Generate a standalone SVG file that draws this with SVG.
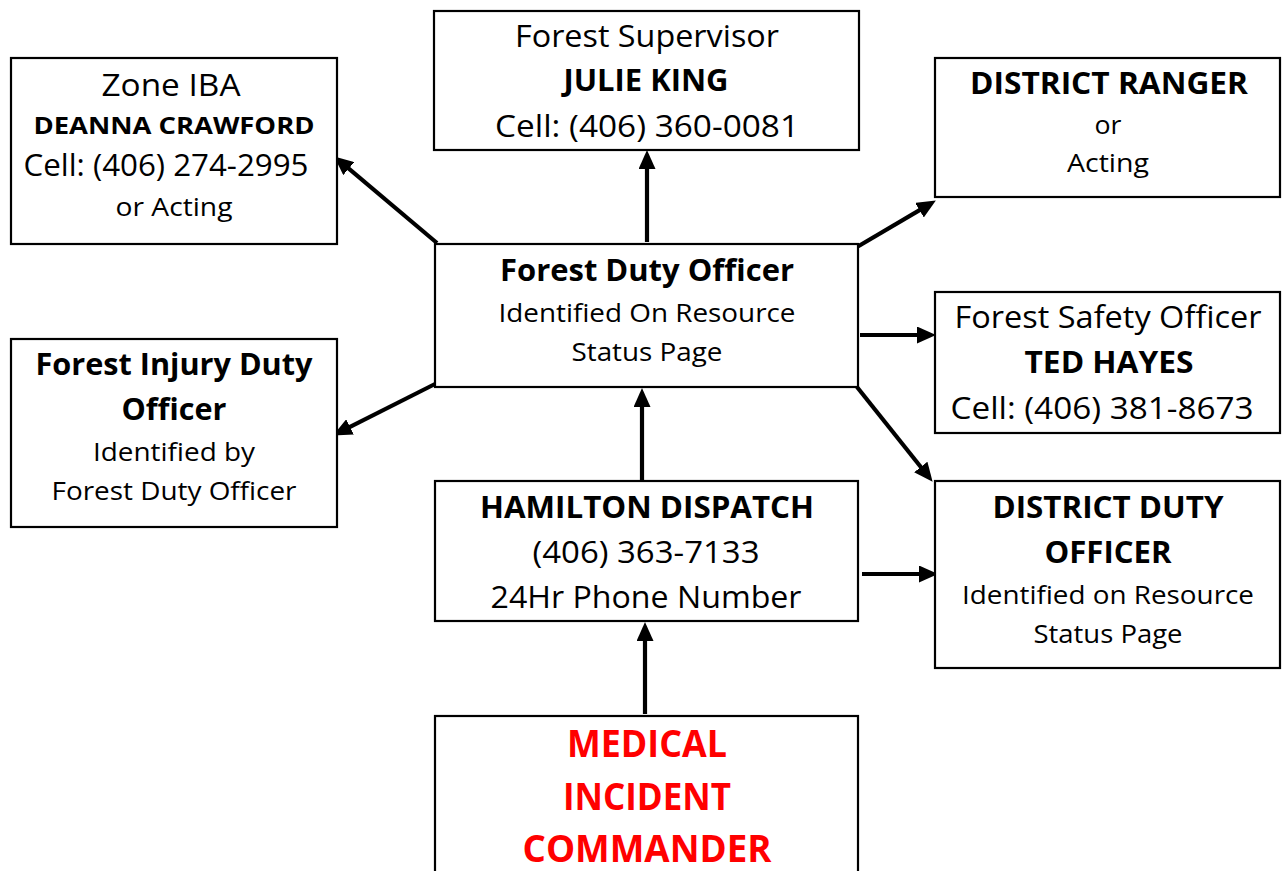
<svg xmlns="http://www.w3.org/2000/svg" width="1282" height="871" viewBox="0 0 1282 871">
<style>
.box{fill:#fff;stroke:#000;stroke-width:2.2}
text{font-family:"Open Sans","Noto Sans","Liberation Sans",sans-serif;fill:#000;text-anchor:middle}
.L{font-size:31px}
.S{font-size:26px}
.b{font-weight:bold}
.red{fill:#ff0000;font-size:37px;font-weight:bold}
.arr{stroke:#000;stroke-width:4.2;fill:none;marker-end:url(#ah)}
</style>
<defs>
<marker id="ah" markerUnits="userSpaceOnUse" markerWidth="19" markerHeight="17" refX="10" refY="8.5" orient="auto">
<path d="M0,0 L19,8.5 L0,17 z" fill="#000"/>
</marker>
</defs>
<rect width="1282" height="871" fill="#fff"/>

<g id="connectors">
<line class="arr" x1="437" y1="243" x2="341.1" y2="162.2"/>
<line class="arr" x1="647" y1="242" x2="647" y2="159"/>
<line class="arr" x1="857" y1="247" x2="928.1" y2="205.1"/>
<line class="arr" x1="860" y1="335" x2="927" y2="335"/>
<line class="arr" x1="857" y1="387" x2="927" y2="474.8"/>
<line class="arr" x1="435" y1="384" x2="341.1" y2="431.4"/>
<line class="arr" x1="642" y1="480" x2="642" y2="397"/>
<line class="arr" x1="862" y1="574" x2="929" y2="574"/>
<line class="arr" x1="645" y1="714" x2="645" y2="631"/>
</g>

<g id="zone-iba">
<rect class="box" x="11" y="58" width="326" height="186"/>
<text class="L" x="171" y="96" textLength="139" lengthAdjust="spacingAndGlyphs">Zone IBA</text>
<text class="b" x="174" y="134" font-size="24" textLength="281" lengthAdjust="spacingAndGlyphs">DEANNA CRAWFORD</text>
<text class="L" x="166" y="176" textLength="285" lengthAdjust="spacingAndGlyphs">Cell: (406) 274-2995</text>
<text class="S" x="174" y="216" textLength="117" lengthAdjust="spacingAndGlyphs">or Acting</text>
</g>

<g id="forest-supervisor">
<rect class="box" x="434" y="11" width="425" height="139"/>
<text class="L" x="647" y="47" textLength="264" lengthAdjust="spacingAndGlyphs">Forest Supervisor</text>
<text class="L b" x="646" y="91" textLength="165" lengthAdjust="spacingAndGlyphs">JULIE KING</text>
<text class="L" x="647" y="137" textLength="304" lengthAdjust="spacingAndGlyphs">Cell: (406) 360-0081</text>
</g>

<g id="district-ranger">
<rect class="box" x="935" y="58" width="345" height="139"/>
<text class="L b" x="1109" y="94" textLength="278" lengthAdjust="spacingAndGlyphs">DISTRICT RANGER</text>
<text class="S" x="1108" y="134" textLength="27" lengthAdjust="spacingAndGlyphs">or</text>
<text class="S" x="1108" y="172" textLength="82" lengthAdjust="spacingAndGlyphs">Acting</text>
</g>

<g id="forest-duty-officer">
<rect class="box" x="435" y="244" width="423" height="143"/>
<text class="L b" x="647" y="281" textLength="294" lengthAdjust="spacingAndGlyphs">Forest Duty Officer</text>
<text class="S" x="647" y="322" textLength="297" lengthAdjust="spacingAndGlyphs">Identified On Resource</text>
<text class="S" x="647" y="361" textLength="151" lengthAdjust="spacingAndGlyphs">Status Page</text>
</g>

<g id="forest-safety-officer">
<rect class="box" x="935" y="292" width="345" height="141"/>
<text class="L" x="1108" y="328" textLength="307" lengthAdjust="spacingAndGlyphs">Forest Safety Officer</text>
<text class="L b" x="1109" y="373" textLength="169" lengthAdjust="spacingAndGlyphs">TED HAYES</text>
<text class="L" x="1102" y="419" textLength="303" lengthAdjust="spacingAndGlyphs">Cell: (406) 381-8673</text>
</g>

<g id="forest-injury-duty-officer">
<rect class="box" x="11" y="339" width="326" height="188"/>
<text class="L b" x="174" y="375" textLength="277" lengthAdjust="spacingAndGlyphs">Forest Injury Duty</text>
<text class="L b" x="174" y="420" textLength="105" lengthAdjust="spacingAndGlyphs">Officer</text>
<text class="S" x="174" y="461" textLength="162" lengthAdjust="spacingAndGlyphs">Identified by</text>
<text class="S" x="174" y="500" textLength="245" lengthAdjust="spacingAndGlyphs">Forest Duty Officer</text>
</g>

<g id="hamilton-dispatch">
<rect class="box" x="435" y="481" width="423" height="140"/>
<text class="L b" x="647" y="518" textLength="334" lengthAdjust="spacingAndGlyphs">HAMILTON DISPATCH</text>
<text class="L" x="646" y="563" textLength="227" lengthAdjust="spacingAndGlyphs">(406) 363-7133</text>
<text class="L" x="646" y="608" textLength="311" lengthAdjust="spacingAndGlyphs">24Hr Phone Number</text>
</g>

<g id="district-duty-officer">
<rect class="box" x="935" y="481" width="345" height="187"/>
<text class="L b" x="1108" y="518" textLength="231" lengthAdjust="spacingAndGlyphs">DISTRICT DUTY</text>
<text class="L b" x="1108" y="563" textLength="127" lengthAdjust="spacingAndGlyphs">OFFICER</text>
<text class="S" x="1108" y="604" textLength="292" lengthAdjust="spacingAndGlyphs">Identified on Resource</text>
<text class="S" x="1108" y="643" textLength="149" lengthAdjust="spacingAndGlyphs">Status Page</text>
</g>

<g id="medical-incident-commander">
<rect class="box" x="435" y="716" width="423" height="170"/>
<text class="red" x="647" y="757" textLength="160" lengthAdjust="spacingAndGlyphs">MEDICAL</text>
<text class="red" x="647" y="810" textLength="168" lengthAdjust="spacingAndGlyphs">INCIDENT</text>
<text class="red" x="647" y="862" textLength="249" lengthAdjust="spacingAndGlyphs">COMMANDER</text>
</g>
</svg>
